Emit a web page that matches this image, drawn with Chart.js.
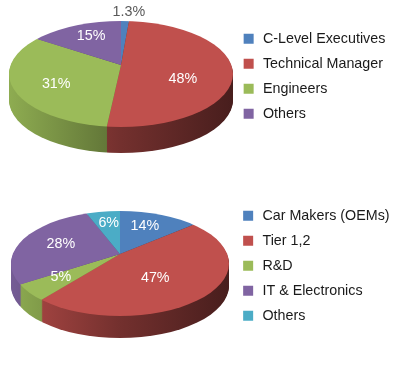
<!DOCTYPE html>
<html>
<head>
<meta charset="utf-8">
<style>
html,body{margin:0;padding:0;background:#fff;width:408px;height:373px;overflow:hidden}
.b{position:absolute;left:0;width:408px}
canvas{display:block}
</style>
<script src="https://cdn.jsdelivr.net/npm/chart.js@4"></script>
</head>
<body>
<div class="b" style="top:0;height:186px"><canvas id="roles"></canvas></div>
<div class="b" style="top:186px;height:187px"><canvas id="sectors"></canvas></div>
<script>
// ---- data ----
const roleCategories = ['C-Level Executives', 'Technical Manager', 'Engineers', 'Others'];
const roleValues = [1.3, 48, 31, 15];
const roleLabels = ['1.3%', '48%', '31%', '15%'];
const sectorCategories = ['Car Makers (OEMs)', 'Tier 1,2', 'R&D', 'IT & Electronics', 'Others'];
const sectorValues = [14, 47, 5, 28, 6];
const sectorLabels = ['14%', '47%', '5%', '28%', '6%'];

// ---- styling ----
const colors = ['#4f81bd', '#c0504d', '#9bbb59', '#8064a2', '#4bacc6'];
const sectorColors = colors;
const roleColors = colors.slice(0, 4);
const FONT = '"Liberation Sans", Arial, sans-serif';

function shade(hex, f) {
  const n = parseInt(hex.slice(1), 16);
  return `rgb(${((n >> 16) & 255) * f | 0},${((n >> 8) & 255) * f | 0},${(n & 255) * f | 0})`;
}

// Tilted 3D look: the library's arcs are redrawn through a flattening transform.
const tiltPlugin = {
  id: 'tilt',
  afterUpdate(chart) {
    const t = chart.options.plugins.tilt;
    chart.legend.left = t.legendLeft;
    chart.legend.top = t.legendTop;
  },
  beforeDatasetDraw(chart, args) {
    const t = chart.options.plugins.tilt;
    const ctx = chart.ctx;
    const arcs = args.meta.data;
    const R = arcs[0].outerRadius, cx = arcs[0].x, cy = arcs[0].y;
    const k = 1.7;
    const sx = k * t.rx / R, sy = k * t.ry / R;

    const layer = (d, side) => {
      ctx.save();
      ctx.beginPath();
      ctx.ellipse(t.cx, t.cy + d, t.rx, t.ry, 0, 0, Math.PI * 2);
      ctx.clip();
      ctx.translate(t.apexX, t.apexY + d);
      ctx.scale(sx, sy);
      ctx.translate(-cx, -cy);
      arcs.forEach(arc => {
        const proxy = Object.create(arc);
        let bg = arc.options.backgroundColor;
        if (side) {
          const u = x => (x - t.apexX) / sx + cx;
          const g = ctx.createLinearGradient(u(t.cx - t.rx), 0, u(t.cx + t.rx), 0);
          g.addColorStop(0, shade(bg, 0.92));
          g.addColorStop(0.5, shade(bg, 0.6));
          g.addColorStop(1, shade(bg, 0.38));
          bg = g;
        }
        proxy.options = Object.assign({}, arc.options, {backgroundColor: bg, borderColor: bg, borderWidth: 0});
        arc.draw.call(proxy, ctx);
      });
      ctx.restore();
    };
    for (let d = t.depth; d >= 1; d--) layer(d, true);
    layer(0, false);
    return false;
  },
  afterDatasetsDraw(chart) {
    const t = chart.options.plugins.tilt;
    const ctx = chart.ctx;
    const arcs = chart.getDatasetMeta(0).data;
    ctx.save();
    ctx.font = '14.3px ' + FONT;
    ctx.textAlign = 'center';
    ctx.textBaseline = 'middle';
    arcs.forEach((arc, i) => {
      const a = (arc.startAngle + arc.endAngle) / 2;
      const x = t.apexX + 0.6 * t.rx * Math.cos(a) + t.nudgeX[i];
      const y = t.apexY + 0.6 * t.ry * Math.sin(a) + t.nudgeY[i];
      ctx.fillStyle = t.labelColors[i];
      ctx.fillText(t.labels[i], x, y);
    });
    ctx.restore();
  }
};

function makePie(id, categories, values, palette, tilt) {
  return new Chart(document.getElementById(id), {
    type: 'pie',
    data: {labels: categories, datasets: [{data: values, backgroundColor: palette, borderWidth: 0}]},
    options: {
      responsive: true,
      maintainAspectRatio: false,
      animation: false,
      events: [],
      plugins: {
        tooltip: {enabled: false},
        tilt: tilt,
        legend: {
          position: 'right',
          align: 'start',
          labels: {
            usePointStyle: true,
            pointStyle: 'rect',
            boxWidth: 15,
            boxHeight: 10,
            padding: 10.7,
            color: '#1a1a1a',
            font: {family: FONT, size: 14.3}
          }
        }
      }
    },
    plugins: [tiltPlugin]
  });
}

makePie('roles', roleCategories, roleValues, roleColors, {
  cx: 121, cy: 74, rx: 112, ry: 53, apexX: 121, apexY: 65, depth: 26,
  legendLeft: 230.8, legendTop: 21,
  labels: roleLabels,
  labelColors: ['#595959', '#fff', '#fff', '#fff'],
  nudgeX: [5, -5, -4, 2], nudgeY: [-21, 11, 5.5, -1]
});

makePie('sectors', sectorCategories, sectorValues, sectorColors, {
  cx: 120, cy: 77.5, rx: 109, ry: 52.5, apexX: 120, apexY: 68, depth: 22,
  legendLeft: 230.3, legendTop: 12,
  labels: sectorLabels,
  labelColors: ['#fff', '#fff', '#fff', '#fff', '#fff'],
  nudgeX: [-3, -11, -10, 3, 1], nudgeY: [0.5, 2, 2, 0, 0]
});
</script>
</body>
</html>
